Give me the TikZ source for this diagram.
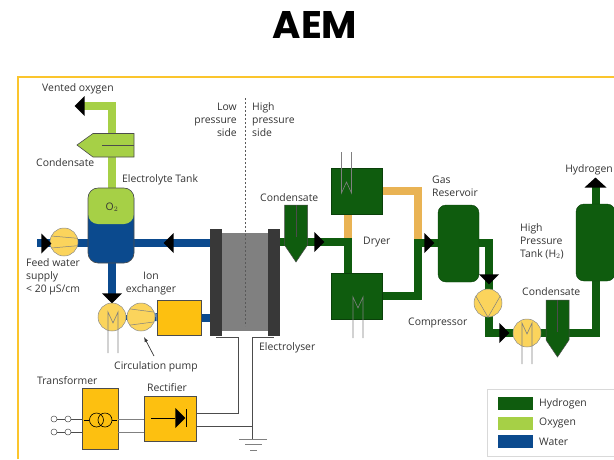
\documentclass[tikz,border=0pt]{standalone}
\usepackage{fontspec}
\setmainfont{Open Sans}
\newfontfamily\titlefont{Poppins}
\usetikzlibrary{shapes,backgrounds}
\definecolor{hgreen}{HTML}{0F5C0E}
\definecolor{ogreen}{HTML}{A6D046}
\definecolor{wblue}{HTML}{0B4A8E}
\definecolor{dryorange}{HTML}{E9B354}
\definecolor{boxyellow}{HTML}{FDC010}
\definecolor{pumpyellow}{HTML}{FBD45C}
\definecolor{framegold}{HTML}{FBC52D}
\definecolor{txt}{HTML}{333333}
\tikzset{
lbl/.style={font=\fontsize{10.4}{13}\selectfont, text=txt, inner sep=0, align=left},
hpipe/.style={hgreen, line width=8pt},
opipe/.style={ogreen, line width=8pt},
wpipe/.style={wblue, line width=8pt},
dpipe/.style={dryorange, line width=8pt},
wire/.style={draw=black!70, line width=.8pt},
flow/.style={isosceles triangle, isosceles triangle stretches, fill=black, inner sep=0,
	minimum width=20pt, minimum height=10pt, shape border rotate=#1},
pump/.style={circle, draw=black!45, fill=pumpyellow, line width=.5pt, minimum size=28pt, inner sep=0},
pumpline/.style={draw=black!50, line width=.5pt},
hbox/.style={rectangle, fill=hgreen, draw=hgreen!70!black, inner sep=0},
ybox/.style={rectangle, fill=boxyellow, draw=black!70, line width=.6pt, inner sep=0},
plate/.style={rectangle, fill=black!78, inner sep=0, minimum width=12pt, minimum height=107pt},
term/.style={circle, draw=black!70, line width=.5pt, minimum size=6pt, inner sep=0},
swatch/.style={rectangle, inner sep=0, minimum width=35pt, minimum height=13pt},
coil/.pic={\draw[black!50, line width=.6pt] (-5,33) -- (-5,-8) -- (0,3) -- (5,-8) -- (5,33);},
sep/.pic={\draw[fill=hgreen, draw=black!70, line width=.5pt] (-11.5,0) -- (11.5,0) -- (11.5,40) -- (0,57) -- (-11.5,40) -- cycle;
	\draw[black!70, line width=.5pt] (0,0) -- (0,32);}
}

\begin{document}
\begin{tikzpicture}[x=1pt, y=-1pt]
	\useasboundingbox (0,0) rectangle (614,459);
	\clip (0,0) rectangle (614,459);
	\draw[framegold, line width=1.2pt] (18,459) -- (18,77) -- (614,77);
	\node[inner sep=0] (title) at (315,24.5) {\titlefont\bfseries\fontsize{38.5}{38.5}\selectfont AEM};

	% oxygen and water side
	\node[rectangle, rounded corners=10pt, draw=black!70, line width=.6pt, inner sep=0, fill=wblue, minimum width=46pt, minimum height=75pt,
		path picture={\fill[ogreen] (path picture bounding box.north west) rectangle ([yshift=-36pt]path picture bounding box.north east);}] (tank) at (111,225.5) {};
	\node[lbl] (otwo) at (112,207) {O$_2$};
	\node[pump] (feedpump) at (64,242) {};
	\draw[pumpline] (feedpump.155) -- (feedpump.15) (feedpump.205) -- (feedpump.-15);
	\node[flow=180, anchor=apex] (ventflow) at (74,106) {};
	\node[flow=0, anchor=apex] (feedflow) at (52,243.5) {};
	\node[flow=180, anchor=apex] (returnflow) at (163,243) {};
	\node[flow=270, anchor=apex] (circflow) at (112,304) {};
	\draw[fill=ogreen, draw=black!70, line width=.6pt] (134,133.5) -- (134,157) -- (93,157) -- (77,145) -- (93,133.5) -- cycle;
	\draw[black!70, line width=.5pt] (102,145) -- (134,145);

	\node[pump] (motor) at (112,317) {};
	\pic at (113,320) {coil};
	\node[pump] (circpump) at (141,317) {};
	\draw[pumpline] (circpump.145) -- (circpump.20) (circpump.215) -- (circpump.-20);
	\node[ybox, minimum width=44pt, minimum height=35pt] (ionex) at (179,317.5) {};

	% electrolyser
	\node[rectangle, fill=black!50, inner sep=0, minimum width=47pt, minimum height=98pt] (cell) at (245,282) {};
	\node[plate] (plateL) at (216,282.5) {};
	\node[plate] (plateR) at (273.5,282.5) {};
	\coordinate (sidetop) at (245,98);
	\coordinate (sidebot) at (245,326);
	\draw[black!65, line width=.9pt, dash pattern=on 2pt off 2pt] (sidetop) -- (sidebot);

	% power supply
	\node[ybox, minimum width=36pt, minimum height=61pt] (transformer) at (100,418.5) {};
	\node[ybox, minimum width=52pt, minimum height=45pt] (rectifier) at (170,418.5) {};
	\node[circle, draw=black, line width=.6pt, minimum size=14pt, inner sep=0] (coilA) at (96.5,420) {};
	\node[circle, draw=black, line width=.6pt, minimum size=14pt, inner sep=0] (coilB) at (105,420) {};
	\draw[black, line width=.6pt] ([xshift=-5pt]coilA.west) -- (coilA.west) (coilB.east) -- ([xshift=5pt]coilB.east);
	\node[isosceles triangle, isosceles triangle stretches, fill=black, inner sep=0, minimum width=20pt, minimum height=10pt, anchor=apex] (diode) at (186,418) {};
	\draw[black, line width=.6pt] (151,418) -- (diode.west) (186,409) -- (186,427);
	\node[term] (termA) at (54,419) {};
	\node[term] (termB) at (68,419) {};
	\node[term] (termC) at (54,432) {};
	\node[term] (termD) at (68,432) {};
	\draw[wire] (termA) -- (termB) (termC) -- (termD);
	\draw[wire] (termB) -- (transformer.west |- termB) (termD) -- (transformer.west |- termD);
	\draw[wire, black!50] (transformer.east |- termB) -- (rectifier.west |- termB) (transformer.east |- termD) -- (rectifier.west |- termD);
	\coordinate (gnd) at (252,426);
	\coordinate (gndtop) at (252,439);
	\draw[wire] (plateL.south) ++(0,1) -- ++(22,0) |- ([yshift=5.5pt]rectifier.east);
	\draw[wire] ([yshift=-1pt]plateR.south) -| (gnd);
	\draw[wire] ([yshift=-7.5pt]rectifier.east) -- (gnd) -- (gndtop);
	\draw[wire, black!50] (239,439) -- (267,439) (245,444.5) -- (262,444.5) (250,450) -- (257,450);
	\coordinate (arrowfrom) at (154,356);
	\coordinate (arrowto) at (144,337);
	\draw[-latex, black!80, line width=.7pt] (arrowfrom) -- (arrowto);

	% hydrogen side
	\pic at (296,205) {sep};
	\node[flow=0, anchor=apex] (hflow) at (325,242) {};
	\node[hbox, minimum width=51pt, minimum height=46pt] (dryerA) at (356.5,191) {};
	\node[hbox, minimum width=51pt, minimum height=46pt] (dryerB) at (356.5,296) {};
	\pic[yscale=-1] at (346.5,185) {coil};
	\pic at (358,305) {coil};
	\node[flow=0, anchor=apex] (resflow) at (435,243) {};
	\node[hbox, rounded corners=8pt, minimum width=41pt, minimum height=77pt] (reservoir) at (458.5,243.5) {};
	\node[pump] (compressor) at (488,303) {};
	\draw[pumpline] (compressor.150) -- (compressor.270) -- (compressor.30);
	\node[flow=270, anchor=apex] (compflow) at (489,285) {};
	\node[pump] (motorH) at (527,333) {};
	\pic at (527,331) {coil};
	\node[flow=0, anchor=apex] (motorflow) at (510,333) {};
	\pic at (557.5,300) {sep};
	\node[hbox, rounded corners=8pt, minimum width=39pt, minimum height=77pt] (hptank) at (595.5,242.5) {};
	\node[flow=90, anchor=apex, minimum width=22pt] (outflow) at (595.5,177) {};

	% pipes
	\begin{scope}[on background layer]
		\draw[opipe] (tank.north -| 112,0) -- (112,106) -- (82,106);
		\draw[wpipe] (37,243) -- (tank.west |- 0,243);
		\draw[wpipe] (tank.east |- 0,243) -- (plateL.west |- 0,243);
		\draw[wpipe] (112,263) -- (112,300);
		\draw[wpipe, line width=5pt] (motor) -- (circpump);
		\draw[wpipe] (circpump) -- (ionex);
		\draw[wpipe] (ionex) -- (plateL.west |- ionex);
		\draw[hpipe] (plateR.east |- 0,242) -- (348,242);
		\draw[hpipe] (348,238) -- (dryerB.north -| 348,0);
		\draw[dpipe] (dryerA.south -| 348,0) -- (348,238);
		\draw[dpipe] (dryerA.east |- 0,191) -- (418,191) -- (418,239);
		\draw[hpipe] (418,239) -- (418,295.5) -- (dryerB.east |- 0,295.5);
		\draw[hpipe] (418,243) -- (reservoir.west |- 0,243);
		\draw[hpipe] (reservoir.east |- 0,243) -- (489,243) -- (489,333) -- (motorH);
		\draw[hpipe] (motorH) -- (595.5,333) -- (hptank.south);
		\draw[hpipe] (hptank.north) -- (595.5,187);
	\end{scope}

	% labels
	\node[lbl, anchor=west] (ventlbl) at (42,89) {Vented oxygen};
	\node[lbl, anchor=west] (condlblA) at (36,163) {Condensate};
	\node[lbl, anchor=west] (tanklbl) at (122,180) {Electrolyte Tank};
	\node[lbl, align=right, anchor=east] (lowlbl) at (237,119.5) {Low\\pressure\\side};
	\node[lbl, anchor=west] (highlbl) at (252,119.5) {High\\pressure\\side};
	\node[lbl, anchor=west] (condlblB) at (260,198) {Condensate};
	\node[lbl, anchor=west] (dryerlbl) at (363,242) {Dryer};
	\node[lbl, anchor=west] (reslbl) at (432,186.5) {Gas\\Reservoir};
	\node[lbl, anchor=east] (h2lbl) at (613,170) {Hydrogen};
	\node[lbl, anchor=west] (hptlbl) at (520,241) {High\\Pressure\\Tank (H$_2$)};
	\node[lbl, anchor=west] (condlblC) at (522,292) {Condensate};
	\node[lbl, anchor=west] (complbl) at (408,323) {Compressor};
	\node[lbl, anchor=west] (elelbl) at (259,348) {Electrolyser};
	\node[lbl, anchor=west] (feedlbl) at (26,277) {Feed water\\supply\\< 20 µS/cm};
	\node[lbl, align=center] (ionlbl) at (151,283.5) {Ion\\exchanger};
	\node[lbl, anchor=west] (pumplbl) at (114,367) {Circulation pump};
	\node[lbl, anchor=west] (translbl) at (37,381) {Transformer};
	\node[lbl, anchor=west] (rectlbl) at (147,388) {Rectifier};

	% legend
	\node[rectangle, draw=black!15, fill=white, inner sep=0, minimum width=140pt, minimum height=67pt, anchor=north west] (legend) at (487,389) {};
	\node[swatch, fill=hgreen, anchor=west] (keyH) at (498,403.5) {};
	\node[swatch, fill=ogreen, anchor=west] (keyO) at (498,423) {};
	\node[swatch, fill=wblue, anchor=west] (keyW) at (498,441.5) {};
	\node[lbl, anchor=west] (keyHlbl) at (539,404) {Hydrogen};
	\node[lbl, anchor=west] (keyOlbl) at (539,423) {Oxygen};
	\node[lbl, anchor=west] (keyWlbl) at (539,442) {Water};
\end{tikzpicture}
\end{document}
